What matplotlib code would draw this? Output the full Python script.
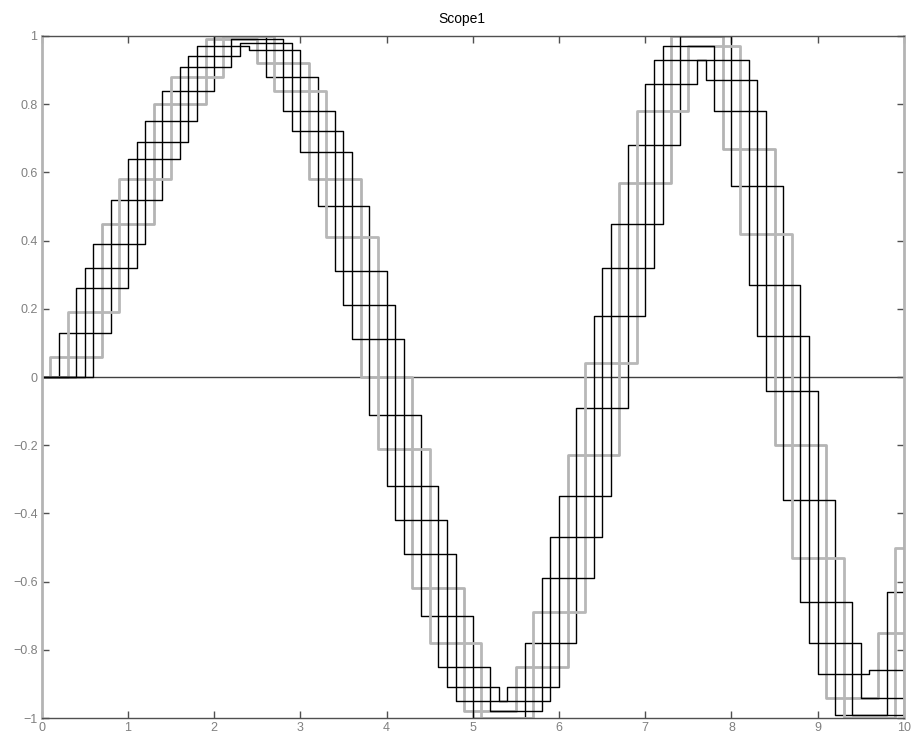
import numpy as np
import matplotlib
matplotlib.use("Agg")
import matplotlib.pyplot as plt

# samples of the source signal, one every 0.1 s (t = 0 .. 10)
samples = [
    0.00, 0.06, 0.13, 0.19, 0.26, 0.32, 0.39, 0.45, 0.52, 0.58,
    0.64, 0.69, 0.75, 0.80, 0.84, 0.88, 0.91, 0.94, 0.97, 0.99,
    1.00, 1.00, 0.99, 0.98, 0.96, 0.92, 0.88, 0.84, 0.78, 0.72,
    0.66, 0.58, 0.50, 0.41, 0.31, 0.21, 0.11, 0.00, -0.11, -0.21,
    -0.32, -0.42, -0.52, -0.62, -0.70, -0.78, -0.85, -0.91, -0.95, -0.98,
    -1.00, -1.00, -0.98, -0.95, -0.91, -0.85, -0.78, -0.69, -0.59, -0.47,
    -0.35, -0.23, -0.09, 0.04, 0.18, 0.32, 0.45, 0.57, 0.68, 0.78,
    0.86, 0.93, 0.97, 1.00, 1.00, 0.97, 0.93, 0.87, 0.78, 0.67,
    0.56, 0.42, 0.27, 0.12, -0.04, -0.20, -0.36, -0.53, -0.66, -0.78,
    -0.87, -0.94, -0.99, -1.00, -0.99, -0.94, -0.86, -0.75, -0.63, -0.50,
    -0.36,
]
base_dt = 0.1
hold_steps = 6                       # each trace holds for 6 base samples (0.6 s)
offsets = [1, 2, 3, 4, 5, 6]         # first update of each trace, in base samples
line_colors = ['#b4b4b4', 'black', '#b8b8b8', 'black', 'black', 'black']
xticks = [0, 1, 2, 3, 4, 5, 6, 7, 8, 9, 10]
yticks = [-1, -0.8, -0.6, -0.4, -0.2, 0, 0.2, 0.4, 0.6, 0.8, 1]

plt.rcParams['font.family'] = ['Liberation Sans Narrow', 'Liberation Sans', 'DejaVu Sans']

s = np.array(samples)
t = np.arange(len(s)) * base_dt

fig = plt.figure(figsize=(9.14, 7.42), dpi=100)
ax = fig.add_axes([0.0456, 0.0323, 0.9434, 0.9192])

ax.axhline(0, color='#404040', lw=1.0, zorder=1)

for off, col in zip(offsets, line_colors):
    ks = np.arange(off, len(s), hold_steps)
    x = np.concatenate([[0], t[ks], [t[-1]]])
    y = np.concatenate([[0], s[ks], [s[ks[-1]]]])
    lw = 1.0 if col == 'black' else 2.0
    ax.step(x, y, where='post', color=col, lw=lw, zorder=2)

ax.set_xlim(0, 10)
ax.set_ylim(-1, 1)
ax.set_xticks(xticks)
ax.set_xticklabels([str(v) for v in xticks])
ax.set_yticks(yticks)
ax.set_yticklabels([('%g' % v).replace('-', '\u2212') for v in yticks])
ax.tick_params(direction='in', length=5, width=1, color='#505050',
               labelcolor='#808080', labelsize=9, top=True, right=True, pad=3)

for side in ['left', 'right']:
    ax.spines[side].set_color('#b4b4b4')
    ax.spines[side].set_linewidth(2)
for side in ['top', 'bottom']:
    ax.spines[side].set_color('#505050')
    ax.spines[side].set_linewidth(1)

fig.text(0.5055, 0.975, 'Scope1', ha='center', va='center', fontsize=10)

fig.savefig('out.png', dpi=100)
